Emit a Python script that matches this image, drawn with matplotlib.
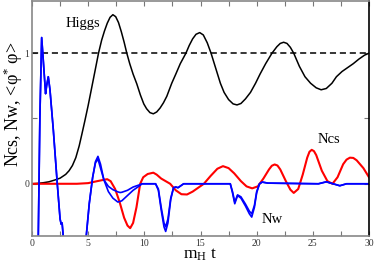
import matplotlib
matplotlib.use("Agg")
import matplotlib.pyplot as plt
from matplotlib.ticker import MultipleLocator, FixedLocator

plt.rcParams['font.family'] = ['Liberation Serif', 'DejaVu Serif']
plt.rcParams['mathtext.fontset'] = 'custom'
plt.rcParams['mathtext.rm'] = 'Liberation Serif'
plt.rcParams['mathtext.it'] = 'Liberation Serif:italic'

# Higgs <phi* phi>
higgs_t = [0, 0.5, 1.0, 1.5, 2.0, 2.5, 3.0, 3.3, 3.6, 3.9, 4.2, 4.44, 4.7, 5.0, 5.3, 5.6,
           5.92, 6.2, 6.45, 6.7, 6.95, 7.2, 7.45, 7.7, 7.95, 8.2, 8.44, 8.7, 9.0, 9.33, 9.65,
           9.95, 10.2, 10.5, 10.8, 11.1, 11.4, 11.7, 12.0, 12.44, 12.8, 13.2, 13.7, 14.0,
           14.3, 14.6, 14.93, 15.25, 15.6, 15.94, 16.3, 16.77, 17.1, 17.5, 17.9, 18.25, 18.6,
           19.0, 19.45, 19.9, 20.3, 20.8, 21.36, 21.8, 22.1, 22.4, 22.7, 23.0, 23.3, 23.8,
           24.3, 24.8, 25.3, 25.74, 26.2, 26.7, 27.1, 27.6, 28.1, 28.6, 29.1, 29.6, 30.0]
higgs_y = [0, 0.003, 0.008, 0.015, 0.028, 0.043, 0.072, 0.1, 0.14, 0.2, 0.29, 0.38, 0.48,
           0.6, 0.73, 0.86, 1.0, 1.1, 1.17, 1.23, 1.275, 1.295, 1.28, 1.235, 1.165, 1.085,
           1.0, 0.92, 0.84, 0.765, 0.68, 0.612, 0.575, 0.545, 0.536, 0.55, 0.58, 0.62, 0.67,
           0.77, 0.84, 0.92, 1.0, 1.06, 1.11, 1.145, 1.158, 1.14, 1.08, 1.0, 0.9, 0.77, 0.7,
           0.645, 0.612, 0.604, 0.615, 0.65, 0.7, 0.77, 0.84, 0.92, 1.0, 1.05, 1.075, 1.084,
           1.075, 1.045, 1.0, 0.9, 0.82, 0.77, 0.735, 0.72, 0.73, 0.77, 0.82, 0.86, 0.89,
           0.92, 0.955, 0.985, 1.0]

# Ncs
ncs_t = [0, 4.0, 5.0, 5.8, 6.37, 6.7, 7.0, 7.4, 7.8, 8.2, 8.5, 8.74, 9.0, 9.3, 9.63, 9.9,
         10.3, 10.8, 11.1, 11.5, 12.3, 12.8, 13.3, 13.8, 14.3, 14.8, 15.3, 15.9, 16.5, 17.0,
         17.5, 18.0, 18.6, 19.1, 19.6, 20.1, 20.6, 21.1, 21.35, 21.6, 21.85, 22.1, 22.6,
         23.0, 23.3, 23.7, 24.1, 24.5, 24.7, 24.9, 25.1, 25.3, 25.8, 26.3, 26.75, 27.2,
         27.7, 28.0, 28.3, 28.6, 28.9, 29.5, 30.0]
ncs_y = [0, 0.0, 0.005, 0.02, 0.03, 0.035, 0.02, -0.04, -0.14, -0.26, -0.32, -0.34, -0.3,
         -0.18, 0.0, 0.05, 0.075, 0.085, 0.07, 0.04, 0.0, -0.05, -0.08, -0.082, -0.06, -0.03,
         0.0, 0.06, 0.115, 0.135, 0.12, 0.08, 0.02, -0.02, -0.035, -0.02, 0.04, 0.11, 0.138,
         0.148, 0.14, 0.11, 0.02, -0.045, -0.07, -0.04, 0.07, 0.2, 0.245, 0.26, 0.25, 0.22,
         0.1, 0.02, 0.0, 0.05, 0.15, 0.185, 0.2, 0.198, 0.18, 0.12, 0.05]

# Nw (two estimates)
nw_t = [0.45, 0.56, 0.7, 0.86, 1.0, 1.21, 1.3, 1.45, 1.6, 1.9, 2.25, 2.5, 2.6, 2.68, 2.78,
        3.0, 4.6, 4.83, 5.1, 5.4, 5.65, 5.87, 6.1, 6.4, 6.8, 7.2, 7.64, 7.85, 8.0, 8.5, 9.0,
        9.5, 9.8, 11.0, 11.25, 11.5, 11.75, 11.9, 12.1, 12.35, 12.6, 12.8, 13.0, 13.25, 13.5,
        17.65, 17.85, 18.05, 18.3, 18.6, 19.0, 19.35, 19.56, 19.8, 20.0, 20.25, 20.5, 21.0,
        25.5, 26.2, 26.8, 27.4, 28.0, 30.0]
nw_a = [-0.6, -0.4, 0.5, 1.12, 0.95, 0.69, 0.75, 0.82, 0.72, 0.41, 0.0, -0.27, -0.31, -0.30,
        -0.40, -0.6, -0.6, -0.4, -0.15, 0.05, 0.17, 0.21, 0.15, 0.03, -0.06, -0.11, -0.14,
        -0.135, -0.13, -0.09, -0.05, -0.02, 0.0, 0.0, -0.05, -0.2, -0.33, -0.365, -0.3, -0.12,
        -0.03, -0.025, -0.03, -0.015, 0.0, 0.0, -0.07, -0.153, -0.09, -0.11, -0.17, -0.23,
        -0.255, -0.18, -0.07, 0.0, 0.013, 0.005, 0.0, 0.015, 0.0, -0.015, 0.0, 0.0]
nw_b = [-0.6, -0.4, 0.5, 1.12, 0.95, 0.69, 0.75, 0.82, 0.72, 0.41, 0.0, -0.27, -0.31, -0.30,
        -0.40, -0.6, -0.6, -0.4, -0.15, 0.05, 0.16, 0.19, 0.12, 0.03, -0.02, -0.045, -0.062,
        -0.067, -0.065, -0.05, -0.025, -0.01, 0.0, 0.0, -0.04, -0.18, -0.3, -0.33, -0.27,
        -0.11, -0.03, -0.025, -0.03, -0.015, 0.0, 0.0, -0.06, -0.14, -0.085, -0.1, -0.155,
        -0.21, -0.23, -0.165, -0.06, 0.0, 0.013, 0.005, 0.0, 0.015, 0.0, -0.015, 0.0, 0.0]

fig = plt.figure(figsize=(3.74, 2.67), dpi=100)
ax = fig.add_axes([32 / 374, 31 / 267, 337 / 374, 235 / 267])

ax.axhline(1.0, color='black', lw=1.1, ls=(0, (4, 2.5)))
ax.plot(higgs_t, higgs_y, color='black', lw=1.1)
ax.plot(ncs_t, ncs_y, color='#ff0000', lw=1.5)
ax.plot(nw_t, nw_a, color='#0000ff', lw=1.2)
ax.plot(nw_t, nw_b, color='#0000ff', lw=1.2)

ax.set_xlim(0, 30)
ax.set_ylim(-0.4, 1.4)

ax.xaxis.set_major_locator(MultipleLocator(5))
ax.xaxis.set_minor_locator(MultipleLocator(2.5))
ax.yaxis.set_major_locator(FixedLocator([0, 1]))
ax.yaxis.set_minor_locator(FixedLocator([0.5]))
ax.tick_params(which='both', direction='in', length=3.5, width=0.8, color='#777777',
               top=True, right=True, labelsize=7, labelcolor='#333333', pad=2)

for side in ['left', 'top', 'bottom']:
    ax.spines[side].set_color('#888888')
    ax.spines[side].set_linewidth(1.2)
ax.spines['right'].set_color('black')
ax.spines['right'].set_linewidth(1.2)

ax.text(2.96, 1.224, 'Higgs', fontsize=10.5, va='center', ha='left')
ax.text(25.4, 0.337, 'Ncs', fontsize=10.5, va='center', ha='left')
ax.text(20.44, -0.27, 'Nw', fontsize=10.5, va='center', ha='left')

fig.text(200 / 374, 1 - 255 / 267, r'$\mathrm{m_H\ t}$', fontsize=12.5, ha='center', va='center')
fig.text(13 / 374, 1 - 104 / 267, 'Ncs, Nw, <φ$^{*}$ φ>', fontsize=13,
         rotation=90, ha='center', va='center')

fig.savefig('out.png', dpi=100)
